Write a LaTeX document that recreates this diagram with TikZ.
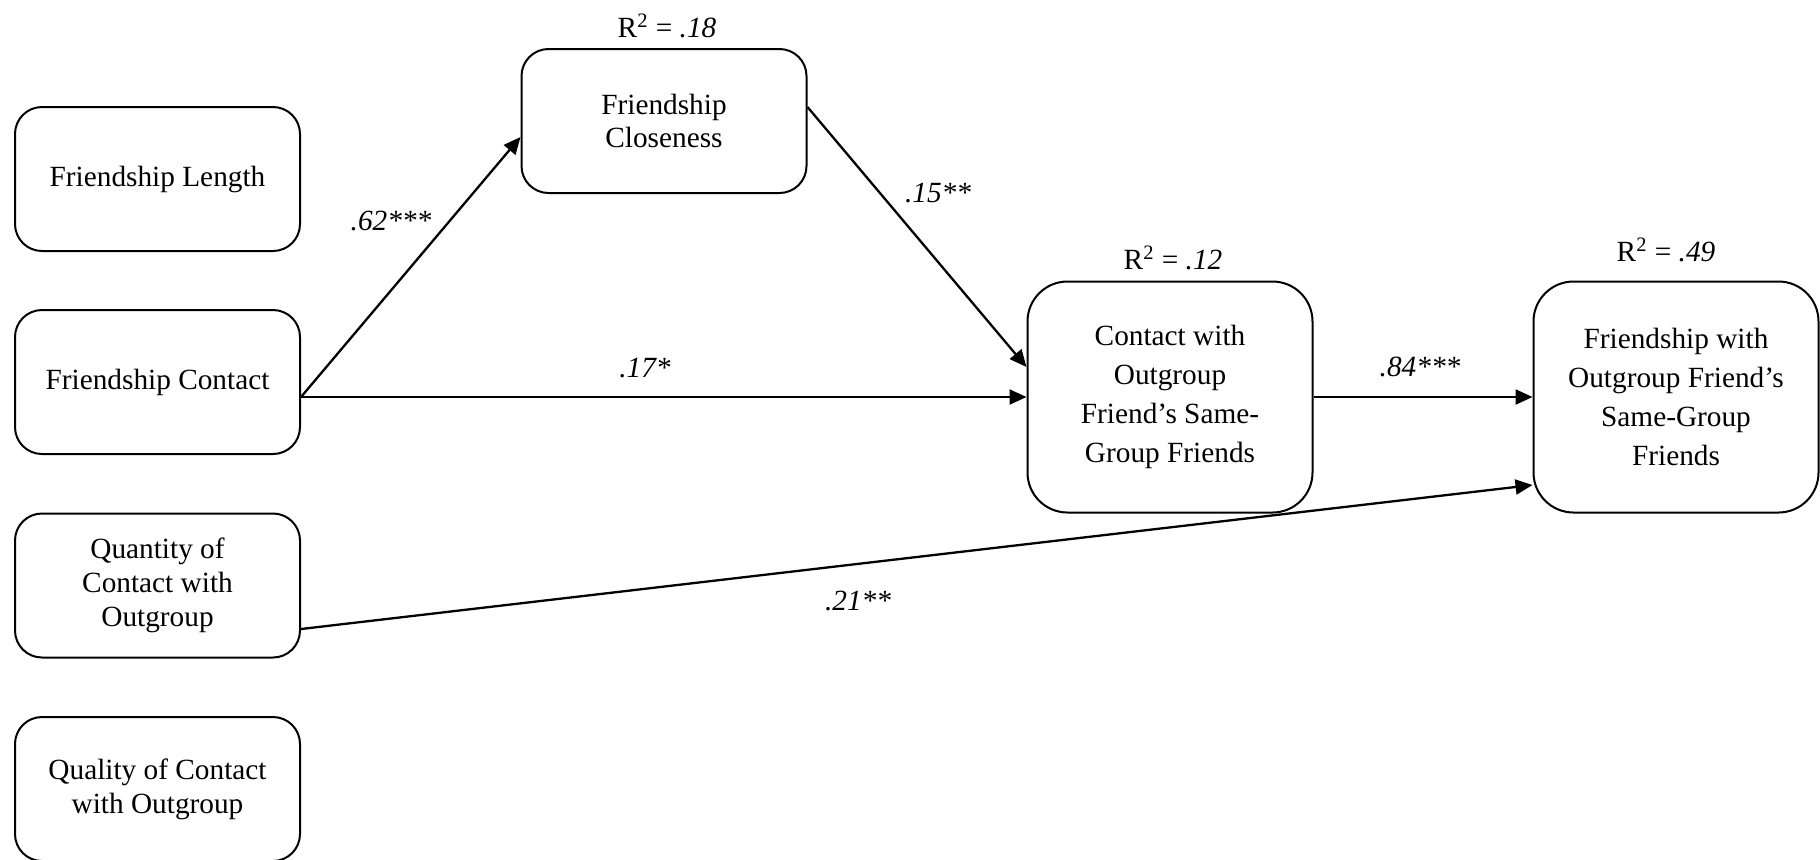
\documentclass[tikz,border=0pt]{standalone}
\usepackage{fontspec}
\setmainfont{Liberation Serif}
\usetikzlibrary{arrows.meta}
\begin{document}
\begin{tikzpicture}[x=0.5pt,y=-0.5pt,
  box/.style={draw, line width=1pt, rounded corners=13.5pt,
    minimum width=142.5pt, minimum height=72pt, align=center, inner sep=0pt,
    font=\fontsize{14.65}{16.85}\selectfont},
  tallbox/.style={box, rounded corners=20pt, minimum height=115.5pt,
    font=\fontsize{14.65}{19.5}\selectfont},
  link/.style={line width=1.15pt, -{Triangle[length=8.5pt,width=7.5pt]}},
  coef/.style={font=\fontsize{14.65}{16.85}\selectfont\itshape},
  rsq/.style={font=\fontsize{14.65}{16.85}\selectfont}
]
\useasboundingbox (0,0) rectangle (1820,859);

% predictors
\node[box] (FL) at (157.5,179)   {Friendship Length};
\node[box] (FC) at (157.5,382)   {Friendship Contact};
\node[box] (QN) at (157.5,585.5) {Quantity of\\Contact with\\Outgroup};
\node[box] (QL) at (157.5,789)   {Quality of Contact\\with Outgroup};

% mediators and outcome
\node[box] (CL) at (664,121) {Friendship\\Closeness};
\node[tallbox] (CO) at (1170,397) {Contact with\\Outgroup\\Friend’s Same-\\Group Friends};
\node[tallbox] (FR) at (1676,397) {Friendship with\\Outgroup Friend’s\\Same-Group\\Friends};

% explained variance
\node[rsq] (r18) at (667,26)  {R\textsuperscript{2} = \textit{.18}};
\node[rsq] (r12) at (1173,258) {R\textsuperscript{2} = \textit{.12}};
\node[rsq] (r49) at (1666,250) {R\textsuperscript{2} = \textit{.49}};

% paths
\draw[link] ([yshift=-7.5pt]FC.east) -- ([yshift=-8pt]CL.west);
\draw[link] ([yshift=7pt]CL.east) -- ([yshift=15pt]CO.west);
\draw[link] ([yshift=-7.5pt]FC.east) -- (CO.west);
\draw[link] (CO.east) -- (FR.west);
\draw[link] ([yshift=-21.75pt]QN.east) -- ([yshift=-44pt]FR.west);

% path coefficients
\node[coef] (c62) at (391,221) {.62***};
\node[coef] (c15) at (938,193) {.15**};
\node[coef] (c17) at (645,368) {.17*};
\node[coef] (c84) at (1420,367) {.84***};
\node[coef] (c21) at (858,601) {.21**};
\end{tikzpicture}
\end{document}
